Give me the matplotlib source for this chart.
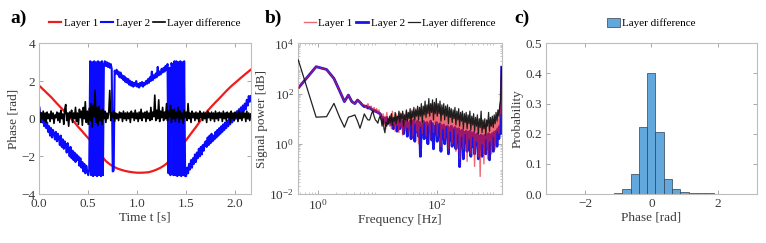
import numpy as np
import matplotlib
matplotlib.use("Agg")
import matplotlib.pyplot as plt
from matplotlib.ticker import LogLocator, NullFormatter, FormatStrFormatter
from matplotlib.patches import Patch

plt.rcParams['font.family'] = ['Liberation Serif', 'DejaVu Serif']
plt.rcParams['mathtext.fontset'] = 'custom'
plt.rcParams['mathtext.rm'] = 'Liberation Serif'

# ---- panel a: phase vs time ----
dt_fast = 0.01   # sampling step of layer 2 / difference
dt_slow = 0.04   # sampling step of layer 1

layer1_phase = [1.75, 1.55, 1.35, 1.15, 0.92, 0.7, 0.48, 0.26, 0.03, -0.2,
                -0.45, -0.68, -0.92, -1.15, -1.45, -1.75, -2.0, -2.25, -2.42, -2.55,
                -2.65, -2.72, -2.78, -2.82, -2.85, -2.87, -2.87, -2.86, -2.84, -2.78,
                -2.7, -2.6, -2.47, -2.3, -2.05, -1.8, -1.55, -1.28, -1.0, -0.72,
                -0.45, -0.15, 0.15, 0.42, 0.65, 0.87, 1.08, 1.3, 1.52, 1.72,
                1.9, 2.08, 2.26, 2.43, 2.6]

layer2_phase = [0.6, 0.1, 0.3, -0.2, 0.1, -0.4, -0.1, -0.5, -0.2, -0.7,
                -0.4, -0.9, -0.5, -1.0, -0.6, -0.8, -1.1, -0.7, -1.2, -0.8,
                -1.0, -1.4, -0.9, -1.5, -1.1, -1.6, -1.2, -1.4, -1.8, -1.3,
                -1.6, -2.0, -1.5, -2.1, -1.7, -2.2, -1.8, -2.3, -1.9, -2.2,
                -2.0, -2.5, -2.1, -2.6, -2.3, -2.8, -2.4, -2.9, -2.5, -2.8,
                -3.0, -2.7,
                3.05, -3.0, 3.0, -3.05, 3.05, -3.0, 3.0, -3.05, 3.05, -3.0, 3.0, -3.05, 3.05, -3.0,
                2.9, 3.05, 2.8, 3.0, 2.75, 2.95, 2.7, 2.9, 2.65,
                -2.8, -2.75,
                2.55, 2.4, 2.6, 2.35, 2.5, 2.2, 2.45, 2.15, 2.3, 2.05, 2.25, 1.95, 2.15,
                1.9, 2.1, 1.8, 2.0, 1.75, 1.95, 1.7, 1.9, 1.75, 2.0,
                1.7, 1.85, 1.65, 1.9, 1.75, 1.95, 1.7, 1.9, 1.8, 2.0,
                1.85, 2.1, 1.9, 2.2, 2.0, 2.5, 2.05, 2.3, 2.15, 2.4,
                2.2, 2.75, 2.3, 2.5, 2.35, 2.65, 2.45, 2.7, 2.5, 2.8,
                2.6, 2.9, -2.9, 2.7, -3.0, 2.95, 2.75, -3.0,
                3.05, -3.0, 3.05, -3.05, 3.0, -3.0, 3.05, -3.05, 3.0, -3.0, 3.05, -3.05,
                -3.05,
                -2.6, -2.9, -2.4, -2.7, -2.2, -2.6, -2.1, -2.4, -1.9, -2.3,
                -1.8, -2.1, -1.6, -2.0, -1.5, -1.9, -1.4, -1.7, -1.3,
                -1.2, -1.5, -1.0, -1.4, -0.9, -1.3, -0.8, -1.2, -0.9, -1.1,
                -0.7, -1.0, -0.6, -0.9, -0.5, -0.8, -0.4, -0.7, -0.3, -0.6,
                -0.2, -0.5, -0.1, -0.4, 0.0, -0.3, 0.1, -0.2, 0.2, -0.1,
                0.3, 0.0, 0.4, 0.1, 0.5, 0.2, 0.6, 0.3, 0.7, 0.4,
                0.8, 0.5, 1.0, 0.7, 1.2, 0.9, 1.2]

diff_phase = [0.6, -0.2, 0.3, 0.0, 0.4, -0.1, 0.3, -0.2, 0.35, 0.0,
              0.25, -0.15, 0.4, 0.0, 0.3, -0.25, 0.2, 0.05, 0.35, -0.1,
              0.3, -0.2, 0.45, 0.0, 0.25, -0.3, 0.5, 0.75, -0.1, 0.3,
              -0.4, 0.35, 0.05, 0.45, -0.2, 0.3, 0.0, 0.6, -0.15, 0.3,
              -0.3, 0.5, 0.05, 0.4, -0.35, 0.6, 0.0, 0.9, -0.2, 0.4,
              -0.3, 0.55, -0.1, 0.8, -0.45, 0.7, 0.1, 1.5, -0.2, 0.6,
              -0.35, 0.65, -0.1, 0.45, -0.3, 0.5, 0.0, 0.4, -0.2, 0.3,
              0.0, 0.35, 1.5, -0.1, 0.3, 0.05, 0.4, -0.15, 0.3, 0.0,
              0.25, -0.1, 0.35, 0.05, 0.3, -0.15, 0.4, 0.0, 0.3, -0.1,
              0.35, 0.0, 0.3, -0.2, 0.4, 0.05, 0.3, -0.1, 0.45, 0.0,
              0.3, -0.15, 0.35, 0.0, 0.5, -0.1, 0.3, 0.05, 0.35, -0.15,
              0.4, 0.0, 0.3, -0.1, 0.6, -0.05, 0.35, 0.1, 1.25, -0.1,
              0.45, 0.0, 1.0, -0.15, 0.4, 0.05, 0.6, -0.1, 0.35, 0.0,
              0.8, -0.1, 0.4, 0.1, 0.7, -0.2, 0.45, 0.0, 0.5, -0.15,
              0.35, 0.05, 0.6, -0.2, 0.4, 0.0, 0.3, -0.25, 0.45, 0.05,
              0.35, -0.1, 0.8, 0.0, 0.3, -0.2, 0.4, 0.05, 0.3, -0.1,
              0.35, 0.0, 0.3, -0.15, 0.4, 0.05, 0.3, -0.1, 0.35, 0.0,
              0.3, -0.2, 0.4, 0.05, 0.3, -0.1, 0.35, 0.0, 0.3, -0.15,
              0.4, 0.0, 0.3, -0.1, 0.35, 0.05, 0.3, -0.15, 0.4, 0.0,
              0.3, -0.1, 0.35, 0.05, 0.3, -0.2, 0.4, 0.0, 0.3, -0.1,
              0.35, 0.05, 0.3, -0.15, 0.4, 0.0, 0.3, -0.1, 0.35, 0.05,
              0.3, -0.15, 0.4, 0.0, 0.3, -0.1, 0.25]

# ---- panel b: spectra (log10 of power) ----
df = 0.463  # frequency resolution of low bins
layer1_lo = [2.22, 3.07, 2.96, 2.6, 2.1, 1.68, 1.94, 1.68, 1.6, 1.74,
             1.65, 1.55, 1.55, 1.42, 1.6, 1.38, 1.5, 1.3, 1.45, 1.25,
             1.4, 1.2, 1.35, 1.15]
layer2_lo = [2.22, 3.07, 2.96, 2.6, 2.1, 1.68, 1.94, 1.68, 1.6, 1.74,
             1.65, 1.55, 1.48, 1.5, 1.42, 1.45, 1.38, 1.35, 1.3, 1.32,
             1.27, 1.25, 1.22, 1.2]
diff_lo = [3.34, 1.06, 1.08, 1.61, 1.05, 0.66, 1.06, 1.1, 1.15, 0.9,
           0.62, 0.9, 1.19, 1.05, 0.95, 0.95, 1.15, 1.32, 1.1, 0.95,
           0.9, 0.82, 1.0, 1.1]

layer1_hi = [1.05, 0.8, 1.2, 0.75, 1.1, 0.6, 1.25, 0.85, 1.0, 0.7,
             1.15, 0.6, 1.3, 0.8, 1.05, 0.5, 1.2, 0.75, 1.1, 0.45,
             1.25, 0.7, 1.0, 0.35, 1.2, 0.8, 0.55, 1.3, 0.65, 1.1,
             0.4, 1.25, 0.75, 1.35, 0.3, 1.15, 0.8, 1.4, 0.5, 1.2,
             0.0, 1.3, 0.7, 1.45, 0.4, 1.25, 0.85, 1.5, 0.3, 1.35,
             0.75, 1.55, 0.2, 1.4, 0.9, 1.6, 0.45, 1.35, 0.8, 1.5,
             0.3, 1.3, 0.85, 1.45, -0.1, 1.2, 0.6, 1.35, 0.2, 1.15,
             0.7, 1.25, -0.2, 1.1, 0.5, 1.2, 0.0, 1.05, 0.6, 1.15,
             -0.3, 0.95, 0.4, 1.1, -0.6, 0.9, 0.3, 1.0, -0.2, 0.85,
             0.4, 1.0, -0.7, 0.8, 0.2, 0.95, -0.4, 0.75, 0.3, 0.9,
             -0.9, 0.7, 0.1, 0.85, -0.5, 0.65, -1.3, 0.8, 0.0, 0.7,
             -0.8, 0.75, 0.2, 0.9, -0.6, 0.7, 0.1, 0.85, -0.4, 0.8,
             0.3, 0.95, -0.2, 0.9, 0.5, 1.1, 0.4, 1.3, 1.2, 3.05]
layer2_hi = [1.1, 0.95, 1.05, 0.85, 1.0, 0.9, 1.05, 0.8, 0.95, 0.85,
             1.0, 0.75, 0.95, 0.6, 0.9, 0.8, 0.95, 0.5, 0.85, 0.9,
             0.6, 0.95, 0.75, 0.9, 0.4, 0.85, 0.7, 0.95, 0.3, 0.8,
             0.65, 0.9, 0.2, 0.85, 0.6, 0.95, 0.1, 0.8, 0.5, 0.9,
             0.3, 0.85, -0.5, 0.75, 0.4, 0.9, 0.2, 0.8, 0.5, 0.85,
             0.0, 0.75, 0.45, 0.9, 0.15, 0.8, -0.2, 0.7, 0.4, 0.85,
             0.1, 0.75, 0.35, 0.8, -0.3, 0.7, 0.2, 0.75, 0.0, 0.65,
             0.3, 0.7, -0.4, 0.6, 0.15, 0.7, -0.1, 0.55, 0.25, 0.65,
             -0.2, 0.55, 0.1, 0.6, -0.91, 0.5, 0.0, 0.55, -0.6, 0.45,
             0.1, 0.5, -0.3, 0.45, 0.0, 0.5, -0.5, 0.4, -0.1, 0.45,
             -0.4, 0.35, 0.0, 0.4, -0.6, 0.3, -0.2, 0.35, -0.5, 0.3,
             -0.1, 0.35, -0.4, 0.3, -0.2, 0.4, -0.64, 0.35, 0.0, 0.4,
             -0.3, 0.45, 0.1, 0.5, -0.1, 0.6, 0.2, 0.7, 0.4, 3.05]
diff_hi = [0.95, 0.7, 1.0, 0.6, 0.44, 0.85, 0.7, 1.0, 0.8, 1.1,
           0.85, 1.2, 0.75, 1.05, 0.9, 1.25, 0.8, 1.1, 0.95, 1.3,
           0.85, 1.2, 1.0, 1.3, 0.7, 1.15, 0.95, 1.35, 0.9, 1.25,
           1.0, 1.4, 0.75, 1.3, 1.05, 1.45, 0.95, 1.35, 1.1, 1.5,
           0.95, 1.45, 1.1, 1.6, 0.85, 1.5, 1.15, 1.7, 1.05, 1.55,
           1.2, 1.8, 1.1, 1.6, 1.25, 1.75, 0.95, 1.65, 1.2, 1.8,
           1.1, 1.6, 1.2, 1.7, 0.9, 1.55, 1.15, 1.6, 0.95, 1.5,
           1.1, 1.55, 0.8, 1.45, 1.05, 1.4, 0.85, 1.35, 1.0, 1.45,
           0.75, 1.3, 0.95, 1.4, 0.7, 1.25, 0.9, 1.3, 0.6, 1.2,
           0.85, 1.25, 0.6, 1.15, 0.8, 1.3, 0.55, 1.1, 0.75, 1.2,
           0.5, 1.05, 0.7, 1.15, 0.4, 1.0, 0.65, 1.3, 0.45, 0.95,
           0.6, 1.0, 0.35, 0.95, 0.7, 1.25, 0.5, 1.05, 0.7, 1.1,
           0.65, 1.15, 0.8, 1.25, 0.9, 1.35, 1.1, 1.55, 1.75, 3.05]

# ---- panel c: histogram of phase difference ----
hist_prob = [0, 0, 0, 0, 0, 0, 0, 0, 0.002, 0.018,
             0.068, 0.222, 0.400, 0.205, 0.050, 0.018, 0.006, 0.003, 0.003, 0.002,
             0.0005, 0.001, 0.001, 0.001, 0]

t_fast = np.arange(len(layer2_phase)) * dt_fast
t_slow = np.arange(len(layer1_phase)) * dt_slow
f_all = np.concatenate([df * np.arange(1, len(layer1_lo) + 1),
                        np.geomspace(11.6, 1250, len(layer1_hi))])
p1 = 10 ** np.array(layer1_lo + layer1_hi)
p2 = 10 ** np.array(layer2_lo + layer2_hi)
pd_ = 10 ** np.array(diff_lo + diff_hi)
edges = np.linspace(-np.pi, np.pi, len(hist_prob) + 1)

spine_c = '#bdbdbd'
text_c = '#3a3a3a'
tick_fs = 9.5
lab_fs = 9.5
leg_fs = 8


def style(ax):
    for s in ax.spines.values():
        s.set_color(spine_c)
        s.set_linewidth(0.8)
    ax.tick_params(direction='in', top=True, right=True, length=3, width=0.6,
                   color='#9a9a9a', labelcolor=text_c, labelsize=tick_fs, pad=3)
    ax.tick_params(which='minor', direction='in', top=True, right=True,
                   length=1.5, width=0.5, color='#b0b0b0')


fig = plt.figure(figsize=(7.66, 2.43), dpi=100)
ax1 = fig.add_axes([0.0513, 0.2016, 0.276, 0.620])
ax2 = fig.add_axes([0.3894, 0.2016, 0.2655, 0.620])
ax3 = fig.add_axes([0.7128, 0.2016, 0.275, 0.620])

# a)
ax1.plot(t_slow, layer1_phase, color='#ee1c1c', lw=1.6, label='Layer 1')
ax1.plot(t_fast, layer2_phase, color='#0a0aff', lw=1.5, label='Layer 2')
ax1.plot(t_fast, diff_phase, color='black', lw=1.2, label='Layer difference')
ax1.set_xlim(0, 2.16)
ax1.set_ylim(-4, 4)
ax1.set_xticks([0, 0.5, 1.0, 1.5, 2.0])
ax1.xaxis.set_major_formatter(FormatStrFormatter('%.1f'))
ax1.set_yticks([-4, -2, 0, 2, 4])
ax1.set_xlabel('Time t [s]', fontsize=lab_fs, color=text_c, labelpad=1)
ax1.set_ylabel('Phase [rad]', fontsize=lab_fs, color=text_c, labelpad=1)
style(ax1)
ax1.legend(loc='center', bbox_to_anchor=(0.5, 1.135), ncol=3, frameon=False,
           fontsize=leg_fs, handlelength=1.1, handletextpad=0.2, columnspacing=0.3)

# b)
ax2.loglog(f_all, p2, color='#1a14e6', lw=2.0, label='Layer 2', zorder=2)
ax2.loglog(f_all, p1, color='#e41a2a', lw=1.0, alpha=0.65, label='Layer 1', zorder=3)
ax2.loglog(f_all, pd_, color='#151515', lw=0.9, alpha=0.95, label='Layer difference', zorder=4)
ax2.set_xlim(0.463, 1250)
ax2.set_ylim(1e-2, 1e4)
ax2.set_xticks([1, 100])
ax2.xaxis.set_minor_locator(LogLocator(base=10, subs=np.arange(2, 10), numticks=20))
ax2.xaxis.set_minor_formatter(NullFormatter())
ax2.set_yticks([1e-2, 1, 1e2, 1e4])
ax2.yaxis.set_minor_locator(LogLocator(base=10, subs=np.arange(2, 10), numticks=20))
ax2.yaxis.set_minor_formatter(NullFormatter())
ax2.set_xlabel('Frequency [Hz]', fontsize=lab_fs, color=text_c, labelpad=1)
ax2.set_ylabel('Signal power [dB]', fontsize=lab_fs, color=text_c, labelpad=1)
style(ax2)
h, l = ax2.get_legend_handles_labels()
ax2.legend([h[1], h[0], h[2]], [l[1], l[0], l[2]], loc='center',
           bbox_to_anchor=(0.5, 1.135), ncol=3, frameon=False, fontsize=leg_fs,
           handlelength=1.1, handletextpad=0.2, columnspacing=0.3)

# c)
ax3.bar(edges[:-1], hist_prob, width=np.diff(edges), align='edge',
        facecolor='#62a8dc', edgecolor='#2f4150', linewidth=0.5)
ax3.set_xlim(-3.18, 3.18)
ax3.set_ylim(0, 0.5)
ax3.set_xticks([-2, 0, 2])
ax3.set_yticks([0, 0.1, 0.2, 0.3, 0.4, 0.5])
ax3.yaxis.set_major_formatter(FormatStrFormatter('%.1f'))
ax3.set_xlabel('Phase [rad]', fontsize=lab_fs, color=text_c, labelpad=1)
ax3.set_ylabel('Probability', fontsize=lab_fs, color=text_c, labelpad=1)
style(ax3)
ax3.legend(handles=[Patch(facecolor='#62a8dc', edgecolor='#2f4150', lw=0.5)],
           labels=['Layer difference'], loc='center', bbox_to_anchor=(0.5, 1.135),
           frameon=False, fontsize=leg_fs, handlelength=1.1, handleheight=0.9,
           handletextpad=0.2)

for x, lab in [(0.013, 'a)'), (0.346, 'b)'), (0.672, 'c)')]:
    fig.text(x, 0.925, lab, fontsize=14, fontweight='bold', va='center', ha='left')

fig.savefig('out.png', dpi=100)
